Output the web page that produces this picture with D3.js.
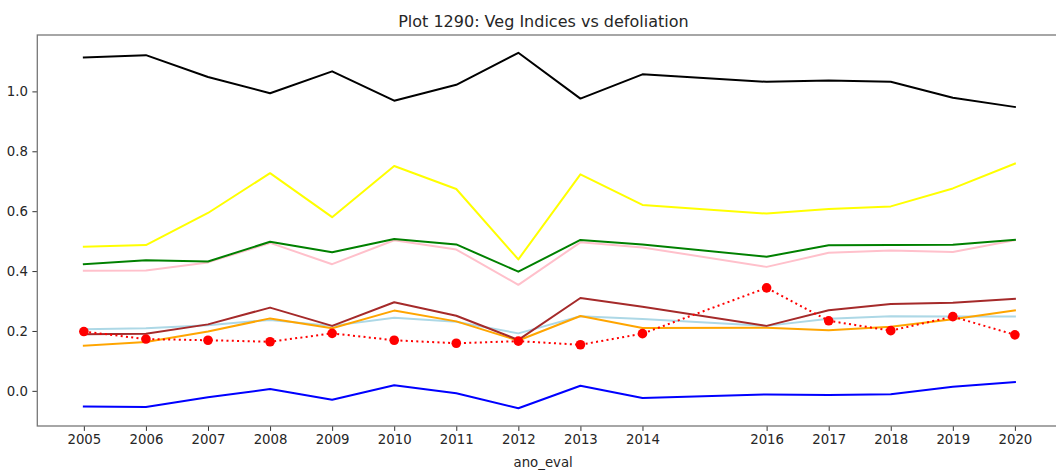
<!DOCTYPE html>
<html>
<head>
<meta charset="utf-8">
<script src="https://cdn.jsdelivr.net/npm/d3@7"></script>
<style>
  body { margin: 0; background: #fff; }
  svg { display: block; font-family: "DejaVu Sans", sans-serif; }
</style>
</head>
<body>
<svg id="chart" width="1056" height="472"></svg>
<script>
// years evaluated (2015 missing)
var years = [2005, 2006, 2007, 2008, 2009, 2010, 2011, 2012, 2013, 2014, 2016, 2017, 2018, 2019, 2020];

var blackVals  = [1.113, 1.121, 1.048, 0.994, 1.067, 0.969, 1.022, 1.129, 0.976, 1.057, 1.032, 1.036, 1.032, 0.979, 0.948];
var yellowVals = [0.481, 0.487, 0.594, 0.727, 0.580, 0.751, 0.674, 0.439, 0.723, 0.621, 0.592, 0.607, 0.616, 0.676, 0.759];
var pinkVals   = [0.401, 0.402, 0.429, 0.494, 0.423, 0.503, 0.472, 0.354, 0.496, 0.479, 0.414, 0.461, 0.469, 0.464, 0.503];
var greenVals  = [0.423, 0.436, 0.432, 0.498, 0.463, 0.507, 0.489, 0.398, 0.504, 0.489, 0.448, 0.486, 0.487, 0.488, 0.504];
var lightblueVals = [0.206, 0.209, 0.219, 0.237, 0.217, 0.244, 0.231, 0.192, 0.249, 0.240, 0.217, 0.241, 0.249, 0.248, 0.248];
var orangeVals = [0.151, 0.163, 0.198, 0.242, 0.209, 0.268, 0.232, 0.168, 0.250, 0.210, 0.211, 0.202, 0.214, 0.239, 0.269];
var brownVals  = [0.189, 0.191, 0.222, 0.278, 0.217, 0.296, 0.251, 0.170, 0.310, 0.281, 0.217, 0.269, 0.290, 0.294, 0.307];
var blueVals   = [-0.052, -0.054, -0.021, 0.006, -0.030, 0.019, -0.008, -0.058, 0.017, -0.024, -0.012, -0.014, -0.011, 0.014, 0.029];
var defoliation = [0.198, 0.173, 0.169, 0.164, 0.192, 0.169, 0.159, 0.166, 0.154, 0.191, 0.344, 0.234, 0.201, 0.248, 0.187];

var yTicks = [0.0, 0.2, 0.4, 0.6, 0.8, 1.0];

var series = [
  { values: blackVals, color: "black" },
  { values: yellowVals, color: "yellow" },
  { values: pinkVals, color: "pink" },
  { values: greenVals, color: "green" },
  { values: lightblueVals, color: "lightblue" },
  { values: orangeVals, color: "orange" },
  { values: brownVals, color: "brown" },
  { values: blueVals, color: "blue" }
];

var svg = d3.select("#chart");
var mLeft = 37.3, mTop = 35, mBottom = 426;
var pxPerYear = 62.07;

// matplotlib style 5% margins
var xPad = (years[years.length - 1] - years[0]) * 0.05;
var x = d3.scaleLinear()
  .domain([years[0] - xPad, years[years.length - 1] + xPad])
  .range([mLeft, mLeft + pxPerYear * (years[years.length - 1] - years[0] + 2 * xPad)]);

var all = d3.merge(series.map(function(s) { return s.values; }).concat([defoliation]));
var lo = d3.min(all), hi = d3.max(all);
var yPad = (hi - lo) * 0.05;
var y = d3.scaleLinear()
  .domain([lo - yPad, hi + yPad])
  .range([mBottom, mTop]);

var mRight = x.range()[1];

// axes
var gx = svg.append("g")
  .attr("transform", "translate(0," + mBottom + ")")
  .call(d3.axisBottom(x).tickValues(years).tickFormat(d3.format("d")).tickSize(4.9).tickPadding(4));
var gy = svg.append("g")
  .attr("transform", "translate(" + mLeft + ",0)")
  .call(d3.axisLeft(y).tickValues(yTicks).tickFormat(d3.format(".1f")).tickSize(4.9).tickPadding(4.5));

[gx, gy].forEach(function(g) {
  g.select(".domain").remove();
  g.selectAll(".tick line").attr("stroke", "#333").attr("stroke-width", 1);
  g.selectAll(".tick text").attr("fill", "#262626").style("font-size", "13.3px").style("font-family", "DejaVu Sans");
});

// frame
svg.append("rect")
  .attr("x", mLeft).attr("y", mTop)
  .attr("width", mRight - mLeft).attr("height", mBottom - mTop)
  .attr("fill", "none").attr("stroke", "#777").attr("stroke-width", 1.3);

var line = d3.line()
  .x(function(d, i) { return x(years[i]); })
  .y(function(d) { return y(d); });

svg.append("clipPath").attr("id", "clip")
  .append("rect").attr("x", mLeft).attr("y", mTop).attr("width", mRight - mLeft).attr("height", mBottom - mTop);

var plot = svg.append("g").attr("clip-path", "url(#clip)");

plot.selectAll("path.series")
  .data(series)
  .enter().append("path")
  .attr("class", "series")
  .attr("d", function(d) { return line(d.values); })
  .attr("fill", "none")
  .attr("stroke", function(d) { return d.color; })
  .attr("stroke-width", 2)
  .attr("stroke-linejoin", "round")
  .attr("stroke-linecap", "square");

plot.append("path")
  .attr("d", line(defoliation))
  .attr("fill", "none")
  .attr("stroke", "red")
  .attr("stroke-width", 2)
  .attr("stroke-dasharray", "2,3.3");

plot.selectAll("circle.defol")
  .data(defoliation)
  .enter().append("circle")
  .attr("class", "defol")
  .attr("cx", function(d, i) { return x(years[i]); })
  .attr("cy", function(d) { return y(d); })
  .attr("r", 4.8)
  .attr("fill", "red");

// title and x label
svg.append("text")
  .attr("x", (mLeft + mRight) / 2 - 6)
  .attr("y", 27)
  .attr("text-anchor", "middle")
  .attr("fill", "#262626")
  .style("font-size", "16px")
  .text("Plot 1290: Veg Indices vs defoliation");

svg.append("text")
  .attr("x", x(2012.4))
  .attr("y", 467)
  .attr("text-anchor", "middle")
  .attr("fill", "#262626")
  .style("font-size", "13.3px")
  .text("ano_eval");
</script>
</body>
</html>
